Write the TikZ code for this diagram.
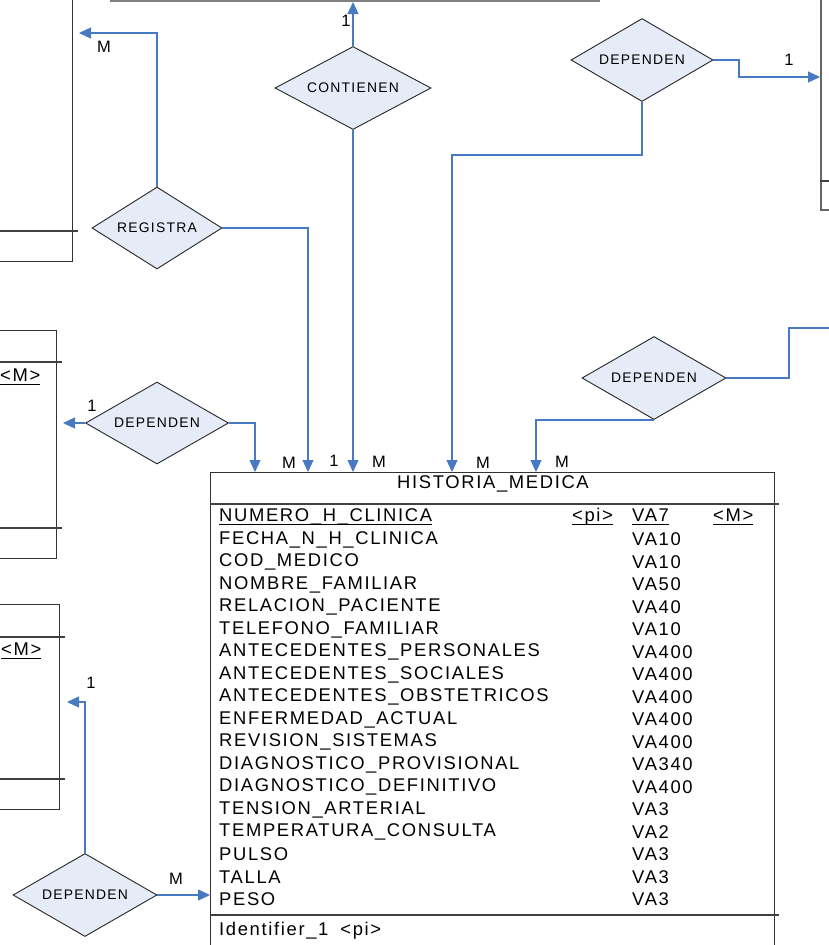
\documentclass[tikz,border=0pt]{standalone}
\usepackage{fontspec}
\setmainfont{Liberation Sans}[LetterSpace=9]
\usetikzlibrary{shapes.geometric,arrows.meta}
\definecolor{relfill}{RGB}{230,236,247}
\definecolor{linkblue}{RGB}{72,122,196}
\newcommand{\tabsize}{\fontsize{18.4}{21}\selectfont}
\newcommand{\relsize}{\fontsize{13.9}{16}\selectfont}
\newcommand{\cardsize}{\fontsize{16.5}{18}\selectfont}
\newcommand{\subr}[1]{\setbox0\hbox{#1}\rlap{\rule[-2.9pt]{\wd0}{0.9pt}}\box0}

\begin{document}
\begin{tikzpicture}[x=1pt,y=-1pt,
    entity/.style={draw=black!80,line width=1.3pt,inner sep=0pt},
    rel/.style={diamond,aspect=1.72,draw=black!85,line width=0.9pt,fill=relfill,inner sep=0pt,minimum width=143,minimum height=83,font=\relsize},
    link/.style={linkblue,line width=1.1pt,-{Triangle[length=12pt,width=11pt]}},
    card/.style={font=\cardsize,inner sep=0pt},
    attr/.style={font=\tabsize,anchor=west,inner sep=0pt},
    sep/.style={black!75,line width=1.2pt}]
\useasboundingbox (0,0) rectangle (829,945);
\clip (0,0) rectangle (829,945);

\node[entity,draw=black!50,line width=2.4pt,anchor=south west,minimum width=488,minimum height=60] (entTop) at (110,2) {};
\node[entity,anchor=south east,minimum width=150,minimum height=300] (entTL) at (73,262) {};
\node[entity,draw=black!60,line width=1.8pt,anchor=south west,minimum width=60,minimum height=240] (entTR) at (820,211) {};
\node[entity,anchor=north east,minimum width=100,minimum height=228] (entML) at (57,330) {};
\node[entity,anchor=north east,minimum width=100,minimum height=205] (entBL) at (60,604) {};
\node[entity,anchor=north west,minimum width=564,minimum height=520] (hist) at (210,472) {};

\draw[sep] (0,231) -- (78,231);
\draw[sep] (820,181) -- (829,181);
\draw[sep] (0,362) -- (62,362) (0,528) -- (62,528);
\draw[sep] (0,637) -- (65,637) (0,779) -- (65,779);
\draw[sep] (210,504) -- (779,504) (210,915) -- (779,915);
\node[attr] (pkML) at (0,377) {\subr{<M>}};
\node[attr] (pkBL) at (1,651) {\subr{<M>}};

\node[font=\tabsize,inner sep=0pt] (histTitle) at (493,484) {HISTORIA\_MEDICA};
\node[attr] (row0) at (219,517) {\subr{NUMERO\_H\_CLINICA}};
\node[attr] (pi0) at (572,517) {\subr{<pi>}};
\node[attr] (type0) at (632,517) {\subr{VA7}};
\node[attr] (m0) at (713,517) {\subr{<M>}};
\foreach \nom/\tipo [count=\i] in {FECHA\_N\_H\_CLINICA/VA10,COD\_MEDICO/VA10,NOMBRE\_FAMILIAR/VA50,
    RELACION\_PACIENTE/VA40,TELEFONO\_FAMILIAR/VA10,ANTECEDENTES\_PERSONALES/VA400,
    ANTECEDENTES\_SOCIALES/VA400,ANTECEDENTES\_OBSTETRICOS/VA400,ENFERMEDAD\_ACTUAL/VA400,
    REVISION\_SISTEMAS/VA400,DIAGNOSTICO\_PROVISIONAL/VA340,DIAGNOSTICO\_DEFINITIVO/VA400,
    TENSION\_ARTERIAL/VA3,TEMPERATURA\_CONSULTA/VA2,PULSO/VA3,TALLA/VA3,PESO/VA3}{
  \node[attr] (row\i) at (219,517+22.5*\i) {\nom};
  \node[attr] (type\i) at (632,517+22.5*\i) {\tipo};
}
\node[attr] (ident) at (219,931) {Identifier\_1\hspace{12pt}<pi>};

\node[rel,minimum width=156] (contienen) at (353,88) {CONTIENEN};
\node[rel,minimum width=130,minimum height=82] (registra) at (157,228) {REGISTRA};
\node[rel,minimum width=142] (depTR) at (642,60) {DEPENDEN};
\node[rel,minimum height=82] (depML) at (157,423) {DEPENDEN};
\node[rel,minimum width=144] (depR) at (654,378) {DEPENDEN};
\node[rel,minimum width=144] (depBL) at (85,895) {DEPENDEN};
\coordinate (offR) at (840,328);

\draw[link] (contienen.north) -- (contienen.north |- entTop.south);
\draw[link] (contienen.south) -- (contienen.south |- hist.north);
\draw[link,shorten >=6pt] (registra.north) |- (entTL.east |- 0,33);
\draw[link] (registra.east) -| (308,0 |- hist.north);
\draw[link] (depTR.south) -- (depTR.south |- 0,155) -| (452,0 |- hist.north);
\draw[link] (depTR.east) -- (739,0 |- depTR.east) |- (entTR.west |- 0,77);
\draw[link,shorten >=6pt] (depML.west) -- (entML.east |- depML.west);
\draw[link] (depML.east) -| (255,0 |- hist.north);
\draw[linkblue,line width=1.1pt] (depR.east) -- (789,0 |- depR.east) |- (offR);
\draw[link] (depR.south) -| (536,0 |- hist.north);
\draw[link,shorten >=7pt] (depBL.north) |- (entBL.east |- 0,702);
\draw[link] (depBL.east) -- (hist.west |- depBL.east);

\node[card] (cTop) at (346,21) {1};
\node[card] (cTL) at (104,47) {M};
\node[card] (cTR) at (789,60) {1};
\node[card] (cML) at (92,406) {1};
\node[card] (cH1) at (289,463) {M};
\node[card] (cH2) at (334,461) {1};
\node[card] (cH3) at (379,462) {M};
\node[card] (cH4) at (483,463) {M};
\node[card] (cH5) at (562,462) {M};
\node[card] (cBL) at (91,683) {1};
\node[card] (cBLM) at (176,879) {M};
\end{tikzpicture}
\end{document}
